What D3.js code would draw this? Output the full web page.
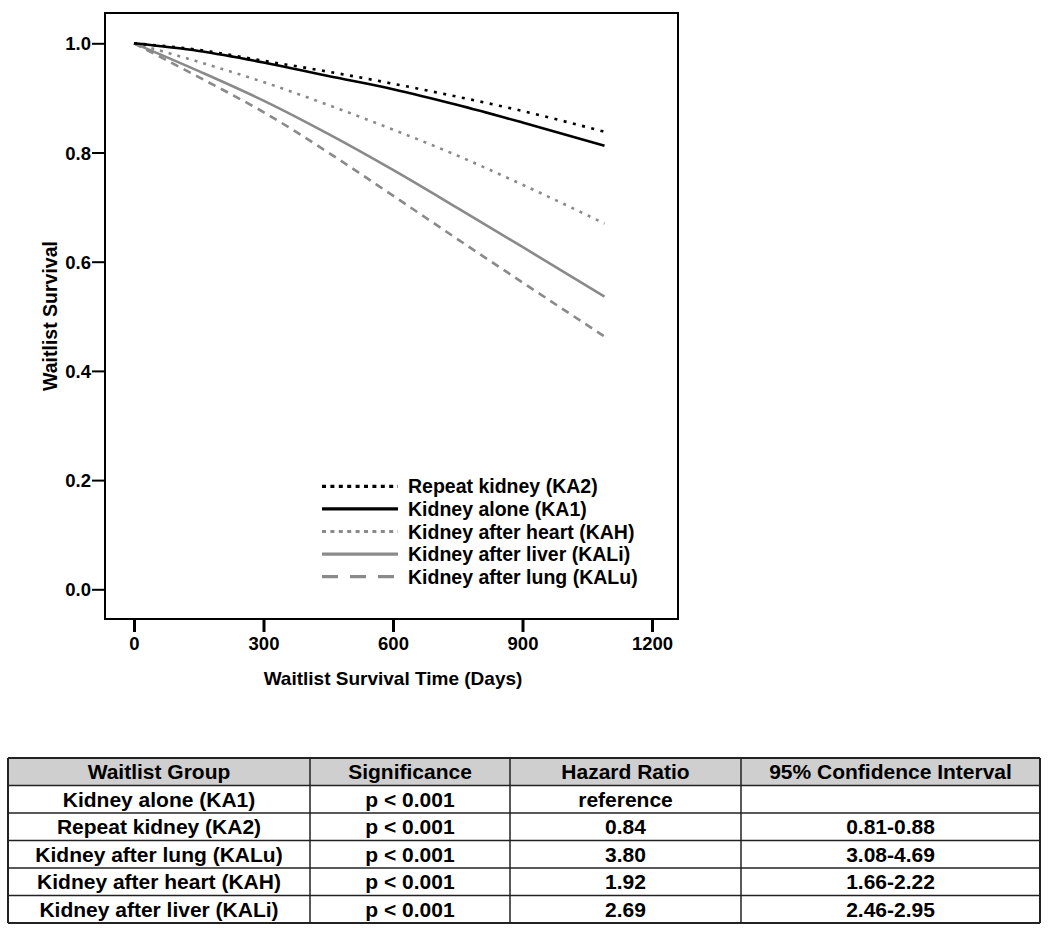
<!DOCTYPE html>
<html>
<head>
<meta charset="utf-8">
<script src="https://cdn.jsdelivr.net/npm/d3@7"></script>
<style>
  html, body { margin: 0; padding: 0; background: #fff; }
  svg { display: block; font-family: Arial, "Liberation Sans", sans-serif; font-weight: bold; }
</style>
</head>
<body>
<svg id="chart" width="1050" height="929"></svg>
<script>
// ---- Data ----
const days = [0, 150, 300, 450, 600, 750, 900, 1090];
const seriesNames = ["Repeat kidney (KA2)", "Kidney alone (KA1)", "Kidney after heart (KAH)", "Kidney after liver (KALi)", "Kidney after lung (KALu)"];
const ka2 = [1.000, 0.988, 0.968, 0.948, 0.926, 0.902, 0.876, 0.838];
const ka1 = [1.000, 0.986, 0.965, 0.940, 0.916, 0.887, 0.855, 0.8125];
const kah = [1.000, 0.966, 0.929, 0.887, 0.842, 0.794, 0.741, 0.670];
const kali = [1.000, 0.949, 0.895, 0.834, 0.768, 0.698, 0.627, 0.536];
const kalu = [1.000, 0.938, 0.874, 0.800, 0.721, 0.641, 0.562, 0.463];
const yTicks = [0.0, 0.2, 0.4, 0.6, 0.8, 1.0];
const xTicks = [0, 300, 600, 900, 1200];

const tableHeader = ["Waitlist Group", "Significance", "Hazard Ratio", "95% Confidence Interval"];
const tableGroups = ["Kidney alone (KA1)", "Repeat kidney (KA2)", "Kidney after lung (KALu)", "Kidney after heart (KAH)", "Kidney after liver (KALi)"];
const tableSignificance = ["p < 0.001", "p < 0.001", "p < 0.001", "p < 0.001", "p < 0.001"];
const tableHazard = ["reference", "0.84", "3.80", "1.92", "2.69"];
const tableCI = ["", "0.81-0.88", "3.08-4.69", "1.66-2.22", "2.46-2.95"];

// ---- Styles ----
const GREY = "#8a8a8a";
const FONT = "Arial, 'Liberation Sans', sans-serif";
const styles = [
  { color: "#000", dash: "3,6.5", legendDash: "4,4.4", width: 2.6 },
  { color: "#000", dash: null, legendDash: null, width: 2.6 },
  { color: GREY, dash: "3,6", legendDash: "4,4.4", width: 2.6 },
  { color: GREY, dash: null, legendDash: null, width: 2.6 },
  { color: GREY, dash: "8,6", legendDash: "16,12", width: 2.6 }
];
const allSeries = [ka2, ka1, kah, kali, kalu];

const svg = d3.select("#chart");

// ---- Plot frame & scales ----
const frame = { left: 105, right: 678, top: 13, bottom: 619 };
const x = d3.scaleLinear().domain([0, 1200]).range([134, 652]);
const y = d3.scaleLinear().domain([0, 1]).range([589.3, 43.3]);

svg.append("rect")
  .attr("x", frame.left).attr("y", frame.top)
  .attr("width", frame.right - frame.left).attr("height", frame.bottom - frame.top)
  .attr("fill", "none").attr("stroke", "#000").attr("stroke-width", 2);

// Y axis
const yAxis = d3.axisLeft(y).tickValues(yTicks).tickFormat(d3.format(".1f")).tickSize(13).tickPadding(1);
const gy = svg.append("g").attr("transform", `translate(${frame.left},0)`).call(yAxis);
gy.select(".domain").remove();
gy.selectAll(".tick line").attr("stroke", "#000").attr("stroke-width", 2);
gy.selectAll(".tick text").attr("font-size", 18.5).attr("font-weight", "bold").attr("fill", "#000")
  .attr("font-family", FONT).attr("dy", "0.36em");

// X axis
const xAxis = d3.axisBottom(x).tickValues(xTicks).tickFormat(d3.format("d")).tickSize(13).tickPadding(5);
const gx = svg.append("g").attr("transform", `translate(0,${frame.bottom})`).call(xAxis);
gx.select(".domain").remove();
gx.selectAll(".tick line").attr("stroke", "#000").attr("stroke-width", 3);
gx.selectAll(".tick text").attr("font-size", 18.5).attr("font-weight", "bold").attr("fill", "#000")
  .attr("font-family", FONT);

// Axis titles
svg.append("text").attr("x", 393).attr("y", 685).attr("text-anchor", "middle")
  .attr("font-size", 19).text("Waitlist Survival Time (Days)");
svg.append("text").attr("transform", "translate(56.5,316) rotate(-90)").attr("text-anchor", "middle")
  .attr("font-size", 19.5).text("Waitlist Survival");

// Lines (draw lower ones first)
const line = d3.line().x((d, i) => x(days[i])).y(d => y(d)).curve(d3.curveMonotoneX);
[4, 3, 2, 1, 0].forEach(k => {
  svg.append("path").datum(allSeries[k])
    .attr("d", line)
    .attr("fill", "none")
    .attr("stroke", styles[k].color)
    .attr("stroke-width", styles[k].width)
    .attr("stroke-dasharray", styles[k].dash);
});

// Legend
const legendRows = d3.scaleBand().domain(d3.range(5)).range([475, 588]);
seriesNames.forEach((name, k) => {
  const cy = legendRows(k) + legendRows.bandwidth() / 2;
  svg.append("line").attr("x1", 322).attr("x2", 398).attr("y1", cy).attr("y2", cy)
    .attr("stroke", styles[k].color).attr("stroke-width", 3.2)
    .attr("stroke-dasharray", styles[k].legendDash);
  svg.append("text").attr("x", 408).attr("y", cy + 7).attr("font-size", 19.5).text(name);
});

// ---- Table ----
const colEdges = [8, 310, 510, 741, 1040];
const rowEdges = d3.range(7).map(i => 758 + i * 27.5);
const rows = [tableHeader].concat(tableGroups.map((g, i) => [g, tableSignificance[i], tableHazard[i], tableCI[i]]));

// header background
svg.append("rect").attr("x", colEdges[0]).attr("y", rowEdges[0])
  .attr("width", colEdges[4] - colEdges[0]).attr("height", rowEdges[1] - rowEdges[0])
  .attr("fill", "#cfcfcf");

// grid lines
rowEdges.forEach((ry, i) => {
  svg.append("line").attr("x1", colEdges[0]).attr("x2", colEdges[4]).attr("y1", ry).attr("y2", ry)
    .attr("stroke", "#222").attr("stroke-width", (i === 0 || i === rowEdges.length - 1) ? 2 : 1.5);
});
colEdges.forEach((cx, i) => {
  svg.append("line").attr("x1", cx).attr("x2", cx).attr("y1", rowEdges[0]).attr("y2", rowEdges[rowEdges.length - 1])
    .attr("stroke", "#222").attr("stroke-width", (i === 0 || i === colEdges.length - 1) ? 2 : 1.5);
});

rows.forEach((r, ri) => {
  r.forEach((txt, ci) => {
    if (!txt) return;
    svg.append("text")
      .attr("x", (colEdges[ci] + colEdges[ci + 1]) / 2)
      .attr("y", (rowEdges[ri] + rowEdges[ri + 1]) / 2 + 7.5)
      .attr("text-anchor", "middle").attr("font-size", 21).text(txt);
  });
});
</script>
</body>
</html>
